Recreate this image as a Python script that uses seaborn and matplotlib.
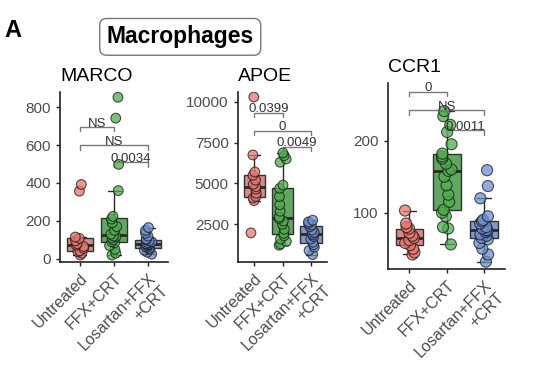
import numpy as np
import pandas as pd
import matplotlib
matplotlib.use("Agg")
import matplotlib.pyplot as plt
import seaborn as sns

groups = ["Untreated", "FFX+CRT", "Losartan+FFX\n+CRT"]
colors = ["#E8766D", "#4DAE4C", "#6D8FD1"]

# MARCO
marco_untreated = [20, 30, 38, 42, 55, 65, 72, 80, 95, 108, 115, 357, 392]
marco_ffx = [20, 30, 50, 70, 85, 90, 100, 110, 118, 120, 130, 150, 170, 190, 210, 224, 360, 498, 742, 852]
marco_los = [25, 35, 45, 50, 55, 60, 65, 70, 75, 78, 80, 85, 90, 95, 100, 105, 120, 135, 150, 165]

# APOE
apoe_untreated = [1975, 3950, 4100, 4200, 4400, 4650, 4800, 4950, 5200, 5500, 5700, 6746, 10290]
apoe_ffx = [1220, 1300, 1450, 1600, 1800, 1950, 2200, 2500, 2700, 2850, 2950, 3300, 3700, 4200, 4700, 4900, 6300, 6500, 6700, 6868]
apoe_los = [650, 900, 1100, 1250, 1400, 1600, 1750, 1850, 1950, 2000, 2150, 2350, 2450, 2550, 2650, 2750]

# CCR1
ccr1_untreated = [42, 45, 50, 55, 58, 62, 65, 68, 72, 78, 80, 85, 103]
ccr1_ffx = [56, 78, 80, 95, 100, 104, 115, 125, 138, 150, 158, 160, 168, 175, 178, 182, 195, 212, 222, 234, 241]
ccr1_los = [32, 42, 50, 58, 63, 65, 68, 70, 73, 75, 76, 78, 80, 85, 88, 90, 95, 120, 137, 159]

# comparisons: (i, j, y, label)
marco_pvals = [(0, 1, 694, "NS"), (0, 2, 599, "NS"), (1, 2, 509, "0.0034")]
apoe_pvals = [(0, 1, 9324, "0.0399"), (0, 2, 8219, "0"), (1, 2, 7236, "0.0049")]
ccr1_pvals = [(0, 1, 268, "0"), (0, 2, 242, "NS"), (1, 2, 215, "0.0011")]

sns.set_style("ticks")
plt.rcParams["font.family"] = ["Liberation Sans", "DejaVu Sans"]

fig = plt.figure(figsize=(5.38, 3.88), dpi=100)

panels = [
    ("MARCO", [marco_untreated, marco_ffx, marco_los], marco_pvals,
     [0.1115, 0.325, 0.2005, 0.438], (-16, 880), [0, 200, 400, 600, 800], 7),
    ("APOE", [apoe_untreated, apoe_ffx, apoe_los], apoe_pvals,
     [0.442, 0.325, 0.166, 0.438], (200, 10600), [2500, 5000, 7500, 10000], 7),
    ("CCR1", [ccr1_untreated, ccr1_ffx, ccr1_los], ccr1_pvals,
     [0.721, 0.307, 0.218, 0.479], (22, 280), [100, 200], 8),
]

np.random.seed(3)
for title, vals, pvals, rect, ylim, yticks, msize in panels:
    ax = fig.add_axes(rect)
    df = pd.DataFrame({
        "group": np.repeat(groups, [len(v) for v in vals]),
        "value": np.concatenate(vals),
    })
    sns.boxplot(data=df, x="group", y="value", hue="group", order=groups,
                hue_order=groups, palette=colors, width=0.75, showfliers=False,
                linecolor="#2a2a2a", linewidth=1,
                medianprops=dict(linewidth=2), boxprops=dict(alpha=0.95),
                legend=False, ax=ax)
    sns.stripplot(data=df, x="group", y="value", hue="group", order=groups,
                  hue_order=groups, palette=colors, jitter=0.14, size=msize,
                  edgecolor="#1a1a1a", linewidth=0.8, alpha=0.75,
                  legend=False, ax=ax)

    rng = ylim[1] - ylim[0]
    tip = rng * 0.025
    for i, j, y, lab in pvals:
        ax.plot([i, i, j, j], [y - tip, y, y, y - tip], color="#7a7a7a", lw=1,
                clip_on=False)
        ax.text((i + j) / 2, y - rng * 0.015, lab, ha="center", va="bottom",
                fontsize=9.5, color="#333333")

    ax.set_xlim(-0.58, 2.57)
    ax.set_ylim(*ylim)
    ax.set_yticks(yticks)
    ax.set_xlabel("")
    ax.set_ylabel("")
    ax.set_title(title, loc="left", fontsize=14, pad=8, color="black")
    ax.set_xticks(range(3))
    ax.set_xticklabels(groups, rotation=45, ha="right", rotation_mode="anchor")
    ax.tick_params(labelsize=11.5, labelcolor="#4d4d4d", length=3, width=1,
                   color="#222222")
    ax.tick_params(axis="y", labelsize=11)
    for s in ["left", "bottom"]:
        ax.spines[s].set_linewidth(1.2)
        ax.spines[s].set_color("#222222")
    sns.despine(ax=ax)

fig.text(0.008, 0.905, "A", fontsize=17, fontweight="bold", va="baseline",
         color="black")
fig.text(0.335, 0.905, "Macrophages", fontsize=16.5, fontweight="bold",
         ha="center", va="center", color="black",
         bbox=dict(boxstyle="round,pad=0.3", fc="white", ec="#777777", lw=1))

fig.savefig("out.png", dpi=100)
